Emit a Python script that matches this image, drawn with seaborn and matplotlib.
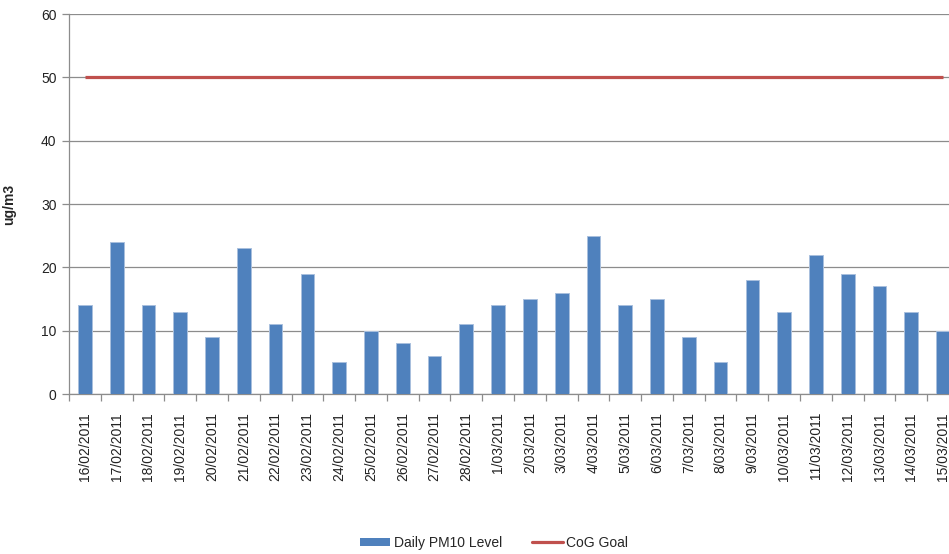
import matplotlib
matplotlib.use("Agg")
import matplotlib.pyplot as plt
import seaborn as sns
import numpy as np
import pandas as pd
from matplotlib.patches import Patch
from matplotlib.lines import Line2D

# data
dates = ["16/02/2011", "17/02/2011", "18/02/2011", "19/02/2011", "20/02/2011",
         "21/02/2011", "22/02/2011", "23/02/2011", "24/02/2011", "25/02/2011",
         "26/02/2011", "27/02/2011", "28/02/2011", "1/03/2011", "2/03/2011",
         "3/03/2011", "4/03/2011", "5/03/2011", "6/03/2011", "7/03/2011",
         "8/03/2011", "9/03/2011", "10/03/2011", "11/03/2011", "12/03/2011",
         "13/03/2011", "14/03/2011", "15/03/2011"]
pm10 = [14, 24, 14, 13, 9, 23, 11, 19, 5, 10, 8, 6, 11, 14, 15,
        16, 25, 14, 15, 9, 5, 18, 13, 22, 19, 17, 13, 10]
goal = [50] * len(dates)

bar_color = "#4F81BD"
bar_edge = "#A9C0DE"
goal_color = "#C0504D"
grid_color = "#8C8C8C"

sns.set_theme(style="white")
plt.rcParams['font.family'] = ['Liberation Sans', 'DejaVu Sans']

df = pd.DataFrame({'date': dates, 'pm10': pm10, 'goal': goal})

fig = plt.figure(figsize=(9.49, 5.54), dpi=100)
# axes runs past the right edge, like the clipped original
ax = fig.add_axes([69 / 949, 1 - 394 / 554, 890 / 949, 380 / 554])

sns.barplot(data=df, x='date', y='pm10', color=bar_color, width=0.43,
            saturation=1, edgecolor=bar_edge, linewidth=0.7, ax=ax, zorder=3)
ax.plot(np.arange(len(dates)), df['goal'], color=goal_color, lw=2.3,
        zorder=4, solid_capstyle='butt')

ax.set_ylim(0, 60)
ax.set_yticks(np.arange(0, 61, 10))
ax.set_xlim(-0.5, len(dates) - 0.5)
ax.yaxis.grid(True, color=grid_color, lw=0.9)
ax.set_axisbelow(True)

for side in ['top', 'right']:
    ax.spines[side].set_visible(False)
for side in ['left', 'bottom']:
    ax.spines[side].set_color(grid_color)
    ax.spines[side].set_linewidth(0.9)

ax.set_xticks(np.arange(len(dates)))
ax.set_xticklabels(dates, rotation=90, fontsize=10, color='#222222')
ax.set_xticks(np.arange(-0.5, len(dates), 1), minor=True)
ax.tick_params(axis='x', which='major', length=0, pad=13)
ax.tick_params(axis='x', which='minor', length=5, color=grid_color, width=0.9,
               direction='out', bottom=True)
ax.tick_params(axis='y', length=5, color=grid_color, width=0.9, direction='out',
               left=True, labelsize=10, labelcolor='#222222', pad=4)

ax.set_xlabel('')
ax.set_ylabel('ug/m3', fontsize=10, fontweight='bold', labelpad=18)

handles = [Patch(facecolor=bar_color, edgecolor='none'),
           Line2D([0], [0], color=goal_color, lw=2.3)]
fig.legend(handles, ['Daily PM10 Level', 'CoG Goal'], loc='center',
           bbox_to_anchor=(494 / 949, 1 - 543 / 554), ncol=2, frameon=False,
           fontsize=10, handlelength=2.2, handleheight=0.55, columnspacing=2.2,
           handletextpad=0.25)

fig.savefig('out.png', dpi=100)
